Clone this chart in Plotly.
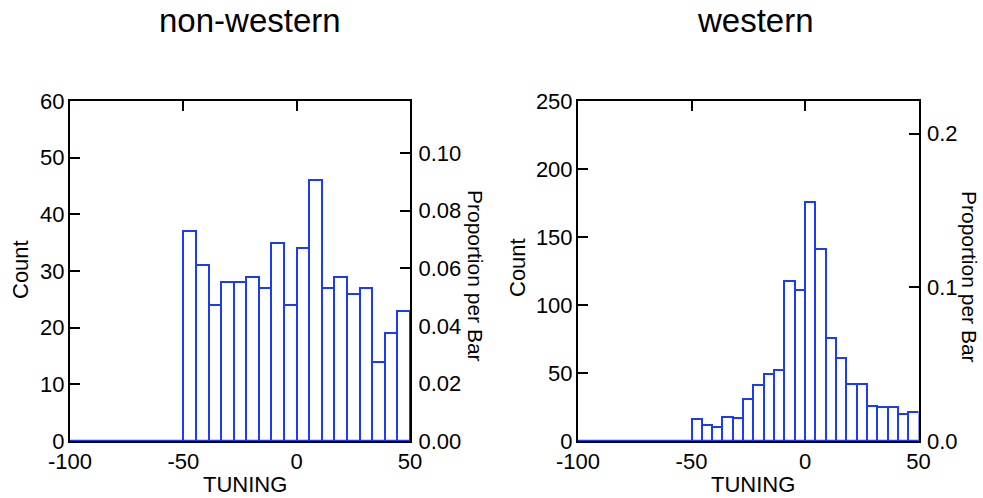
import numpy as np
import plotly.graph_objects as go

# ---- data ----
panel_titles = ["non-western", "western"]
bin_low, bin_high = -50, 50
nonwestern_counts = [37, 31, 24, 28, 28, 29, 27, 35, 24, 34, 46, 27, 29, 26, 27, 14, 19, 23]
western_counts = [16, 12, 10, 18, 17, 31, 41, 49, 52, 118, 111, 176, 141, 76, 61, 42, 42, 26, 25, 25, 20, 21]
x_ticks = [-100, -50, 0, 50]
x_tick_labels = ["-100", "-50", "0", "50"]
count_ticks_nw = [0, 10, 20, 30, 40, 50, 60]
count_ticks_w = [0, 50, 100, 150, 200, 250]
prop_ticks_nw = [0.0, 0.02, 0.04, 0.06, 0.08, 0.10]
prop_ticks_w = [0.0, 0.1, 0.2]

W, H = 983, 498
BLUE = "#1a3cf5"
FONT = "Liberation Sans"
TICK = 22

def px(x):
    return x / W

def py(y):
    return 1 - y / H

fig = go.Figure()

panels = [
    dict(counts=nonwestern_counts, cticks=count_ticks_nw, pticks=prop_ticks_nw, pfmt=".2f",
         xd=[px(70), px(410)], xa="x", ya="y", ya2="y2", xkey="xaxis", ykey="yaxis", y2key="yaxis2",
         title_x=250, count_x=20, count_y=270, tun_x=245, prop_x=476, prop_y=276),
    dict(counts=western_counts, cticks=count_ticks_w, pticks=prop_ticks_w, pfmt=".1f",
         xd=[px(578), px(918.5)], xa="x2", ya="y3", ya2="y4", xkey="xaxis2", ykey="yaxis3", y2key="yaxis4",
         title_x=755, count_x=517, count_y=268, tun_x=753, prop_x=970, prop_y=277),
]
yd = [py(441), py(101)]

annotations = []
shapes = []
for i, p in enumerate(panels):
    counts = np.array(p["counts"], dtype=float)
    n = len(counts)
    edges = np.linspace(bin_low, bin_high, n + 1)
    centers = (edges[:-1] + edges[1:]) / 2
    width = edges[1] - edges[0]
    total = counts.sum()
    ymax = p["cticks"][-1]

    fig.add_trace(go.Bar(x=centers, y=counts, width=width, xaxis=p["xa"], yaxis=p["ya"],
                         marker=dict(color="white", line=dict(color=BLUE, width=2)),
                         showlegend=False))
    fig.add_trace(go.Scatter(x=centers, y=counts / total, xaxis=p["xa"], yaxis=p["ya2"],
                             mode="markers", marker=dict(opacity=0), hoverinfo="skip",
                             showlegend=False))

    common = dict(ticks="inside", ticklen=10, tickwidth=2, tickcolor="black",
                  showline=True, linecolor="black", linewidth=2,
                  showgrid=False, zeroline=False, layer="below traces",
                  tickfont=dict(size=TICK, color="black", family=FONT),
                  automargin=False, fixedrange=True)

    fig.layout[p["xkey"]] = dict(domain=p["xd"], range=[-100, 50], tickvals=x_ticks,
                                 ticktext=x_tick_labels, mirror="ticks",
                                 anchor=p["ya"], ticklabelstandoff=0, **common)
    fig.layout[p["ykey"]] = dict(domain=yd, range=[0, ymax], tickvals=p["cticks"],
                                 anchor=p["xa"], ticklabelstandoff=-1, **common)
    fig.layout[p["y2key"]] = dict(overlaying=p["ya"], side="right", range=[0, ymax / total],
                                  tickvals=p["pticks"], tickformat=p["pfmt"],
                                  anchor=p["xa"], ticklabelstandoff=2, **common)

    shapes.append(dict(type="line", xref=f"{p['xa']} domain", yref=p["ya"], x0=0, x1=1, y0=0, y1=0,
                       line=dict(color=BLUE, width=2.5), layer="above"))

    annotations += [
        dict(text=panel_titles[i], x=px(p["title_x"]), y=py(21), xref="paper", yref="paper",
             showarrow=False, font=dict(size=33, color="black", family=FONT),
             xanchor="center", yanchor="middle"),
        dict(text="Count", x=px(p["count_x"]), y=py(p["count_y"]), xref="paper", yref="paper",
             showarrow=False, textangle=-90, font=dict(size=22, color="black", family=FONT),
             xanchor="center", yanchor="middle"),
        dict(text="TUNING", x=px(p["tun_x"]), y=py(484), xref="paper", yref="paper",
             showarrow=False, font=dict(size=22, color="black", family=FONT),
             xanchor="center", yanchor="middle"),
        dict(text="Proportion per Bar", x=px(p["prop_x"]), y=py(p["prop_y"]), xref="paper", yref="paper",
             showarrow=False, textangle=90, font=dict(size=21, color="black", family=FONT),
             xanchor="center", yanchor="middle"),
    ]

fig.update_layout(width=W, height=H, margin=dict(l=0, r=0, t=0, b=0, autoexpand=False),
                  paper_bgcolor="white", plot_bgcolor="white",
                  font=dict(family=FONT, color="black"),
                  annotations=annotations, shapes=shapes, bargap=0, showlegend=False)

fig.write_html("out.html")
